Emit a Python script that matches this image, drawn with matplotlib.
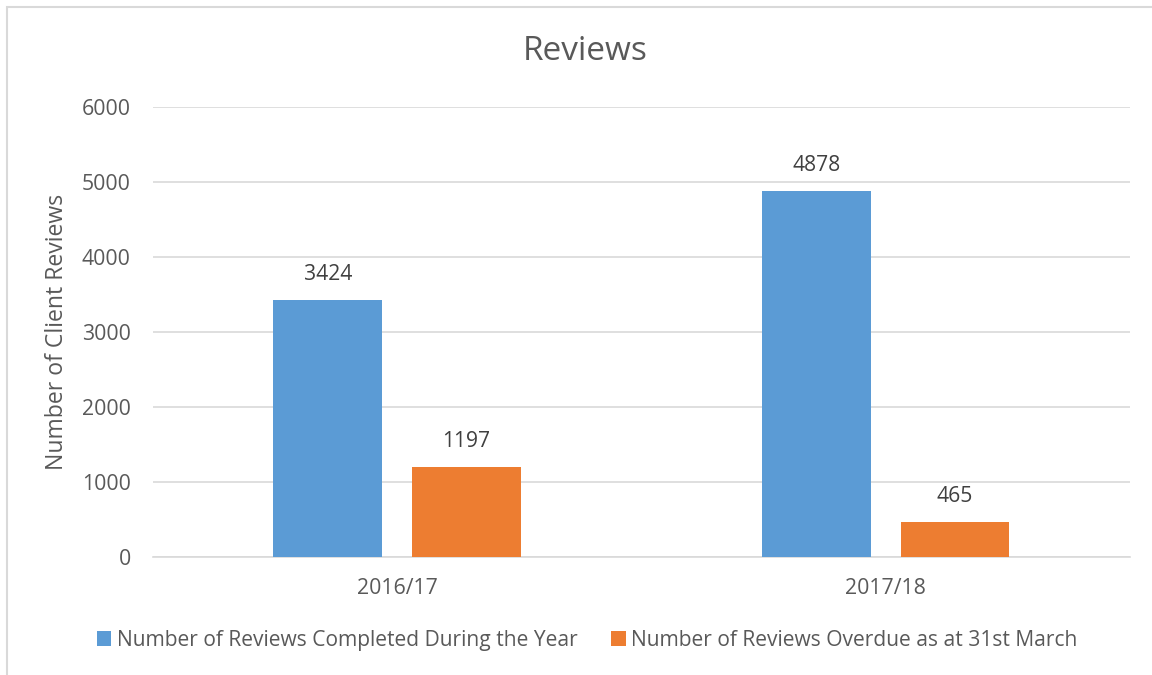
import matplotlib.pyplot as plt
import numpy as np
from matplotlib.patches import Rectangle

plt.rcParams['font.family'] = ['Open Sans', 'DejaVu Sans']

# dados
categories = ["2016/17", "2017/18"]
completed = [3424, 4878]
overdue = [1197, 465]
series_labels = ["Number of Reviews Completed During the Year",
                 "Number of Reviews Overdue as at 31st March"]
yticks = [0, 1000, 2000, 3000, 4000, 5000, 6000]

BLUE = "#5B9BD5"
ORANGE = "#ED7D31"
TXT = "#595959"
GRID = "#D9D9D9"

fig = plt.figure(figsize=(11.52, 6.75), dpi=100)
ax = fig.add_axes([0.1328, 0.1748, 0.8480, 0.6667])

x = np.arange(len(categories))
w = 0.223
off = (w + 0.061) / 2
b1 = ax.bar(x - off, completed, w, color=BLUE, label=series_labels[0], zorder=3)
b2 = ax.bar(x + off, overdue, w, color=ORANGE, label=series_labels[1], zorder=3)

for bars in (b1, b2):
    for r in bars:
        ax.annotate(f"{int(r.get_height())}", (r.get_x() + r.get_width() / 2, r.get_height()),
                    xytext=(0, 11), textcoords="offset points", ha="center", va="bottom",
                    fontsize=15.2, color="#404040")

ax.set_xlim(-0.5, 1.5)
ax.set_ylim(0, 6000)
ax.set_yticks(yticks)
ax.set_xticks(x)
ax.set_xticklabels(categories)
ax.tick_params(axis="both", length=0, labelsize=15.3, labelcolor=TXT)
ax.tick_params(axis="y", pad=16)
ax.tick_params(axis="x", pad=15)
ax.grid(axis="y", color=GRID, linewidth=1.2, zorder=0)
for s in ("top", "right", "left"):
    ax.spines[s].set_visible(False)
ax.spines["bottom"].set_color(GRID)
ax.spines["bottom"].set_linewidth(1.2)
ax.set_ylabel("Number of Client Reviews", fontsize=16.6, color=TXT)
ax.yaxis.set_label_coords(-0.086, 0.5)

fig.text(0.508, 0.923, "Reviews", ha="center", va="center", fontsize=24, color=TXT)

leg = fig.legend(loc="center", bbox_to_anchor=(0.5095, 0.051), ncol=2, frameon=False,
                 fontsize=15.1, handlelength=0.7, handleheight=0.7, handletextpad=0.25,
                 columnspacing=1.6)
for t in leg.get_texts():
    t.set_color(TXT)

# moldura externa do grafico
fig.add_artist(Rectangle((7 / 1152, -0.1), 1.2, 1.1 - 7 / 675, transform=fig.transFigure,
                         fill=False, edgecolor=GRID, linewidth=1.5))

fig.savefig("out.png", dpi=100)
